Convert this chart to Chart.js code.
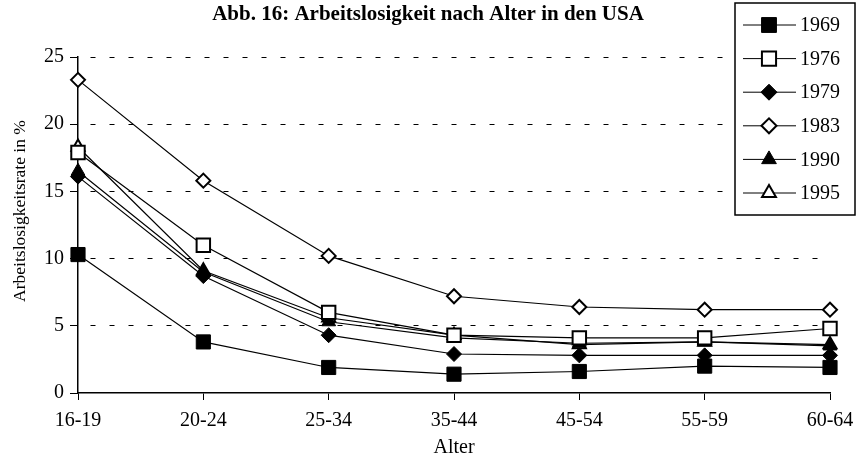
<!DOCTYPE html>
<html>
<head>
<meta charset="utf-8">
<script src="https://cdn.jsdelivr.net/npm/chart.js@4"></script>
<style>
  html,body{margin:0;padding:0;background:#fff;}
  #wrap{width:857px;height:460px;position:relative;}
</style>
</head>
<body>
<div id="wrap"><canvas id="c"></canvas></div>
<script>
// Arbeitslosigkeit nach Alter in den USA
const ageGroups = ['16-19','20-24','25-34','35-44','45-54','55-59','60-64'];
const years = ['1969','1976','1979','1983','1990','1995'];

const v1969 = [10.3, 3.8, 1.9, 1.4, 1.6, 2.0, 1.9];
const v1976 = [17.9, 11.0, 6.0, 4.3, 4.1, 4.1, 4.8];
const v1979 = [16.1, 8.7, 4.3, 2.9, 2.8, 2.8, 2.8];
const v1983 = [23.3, 15.8, 10.2, 7.2, 6.4, 6.2, 6.2];
const v1990 = [16.5, 9.0, 5.3, 4.1, 3.7, 3.8, 3.5];
const v1995 = [18.3, 9.1, 5.6, 4.3, 3.6, 3.8, 3.6];

const yTicks = [0,5,10,15,20,25];

const SERIF = '"Liberation Serif", "DejaVu Serif", serif';

function series(label, data, style, filled, radius){
  return {
    label, data,
    borderColor:'#000', borderWidth:1.2, tension:0,
    pointStyle:style, pointRadius:radius, pointHoverRadius:radius,
    pointBackgroundColor: filled ? '#000' : '#fff',
    pointBorderColor:'#000', pointBorderWidth: filled ? 1 : 2,
    clip:false
  };
}

const datasets = [
  series(years[0], v1969, 'rect', true, 10),
  series(years[1], v1976, 'rect', false, 9.5),
  series(years[2], v1979, 'rectRot', true, 7.5),
  series(years[3], v1983, 'rectRot', false, 7),
  series(years[4], v1990, 'triangle', true, 8),
  series(years[5], v1995, 'triangle', false, 7.5)
];

// title, y-axis title and boxed legend, drawn on top
const overlay = {
  id:'overlay',
  afterDraw(chart){
    const ctx = chart.ctx;
    ctx.save();
    ctx.fillStyle = '#000';
    ctx.font = 'bold 21px ' + SERIF;
    ctx.textAlign = 'center'; ctx.textBaseline = 'middle';
    ctx.fillText('Abb. 16: Arbeitslosigkeit nach Alter in den USA', 428, 15);

    ctx.save();
    ctx.translate(20, 211);
    ctx.rotate(-Math.PI/2);
    ctx.font = '17.5px ' + SERIF;
    ctx.fillText('Arbeitslosigkeitsrate in %', 0, 0);
    ctx.restore();

    // legend box
    const bx = 735, by = 3, bw = 120, bh = 212;
    ctx.fillStyle = '#fff';
    ctx.fillRect(bx, by, bw, bh);
    ctx.strokeStyle = '#000'; ctx.lineWidth = 1.5;
    ctx.strokeRect(bx, by, bw, bh);
    ctx.font = '20px ' + SERIF;
    ctx.textAlign = 'left';
    chart.data.datasets.forEach((ds, i) => {
      const y = 25 + i * 33.6;
      ctx.strokeStyle = '#000'; ctx.lineWidth = 1;
      ctx.beginPath(); ctx.moveTo(743, y); ctx.lineTo(796, y); ctx.stroke();
      ctx.fillStyle = ds.pointBackgroundColor;
      ctx.strokeStyle = '#000'; ctx.lineWidth = ds.pointBorderWidth;
      Chart.helpers.drawPoint(ctx, {pointStyle: ds.pointStyle, radius: ds.pointRadius + 0.5, borderWidth: ds.pointBorderWidth, rotation:0}, 769, y);
      ctx.fillStyle = '#000';
      ctx.fillText(ds.label, 800, y + 1);
    });
    ctx.restore();
  }
};

new Chart(document.getElementById('c'), {
  type:'line',
  data:{ labels: ageGroups, datasets },
  plugins:[overlay],
  options:{
    responsive:true, maintainAspectRatio:false, animation:false,
    layout:{ padding:{ top:57, right:27, left:0, bottom:0 } },
    plugins:{ legend:{display:false}, title:{display:false}, tooltip:{enabled:false} },
    scales:{
      x:{
        offset:false,
        afterFit(s){ s.height = 67; s.paddingLeft = 0; s.paddingRight = 0; },
        grid:{ drawOnChartArea:false, drawTicks:true, tickLength:7, color:'#000' },
        border:{ color:'#000', width:1.5 },
        ticks:{ color:'#000', font:{ family:SERIF, size:20 }, padding:9, maxRotation:0 },
        title:{ display:true, text:'Alter', color:'#000', font:{ family:SERIF, size:20 }, padding:{top:0,bottom:0} }
      },
      y:{
        min:0, max:25,
        afterFit(s){ s.width = 78; s.paddingTop = 0; s.paddingBottom = 0; },
        afterBuildTicks(s){ s.ticks = yTicks.map(v => ({value:v})); },
        grid:{
          color:(c) => c.tick && c.tick.value === 0 ? 'rgba(0,0,0,0)' : '#000',
          lineWidth:1, drawTicks:true, tickLength:8, tickColor:'#000'
        },
        border:{ color:'#000', width:1.5, dash:[5,14], dashOffset:-12 },
        ticks:{ color:'#000', font:{ family:SERIF, size:20 }, padding:6 }
      }
    }
  }
});
</script>
</body>
</html>
